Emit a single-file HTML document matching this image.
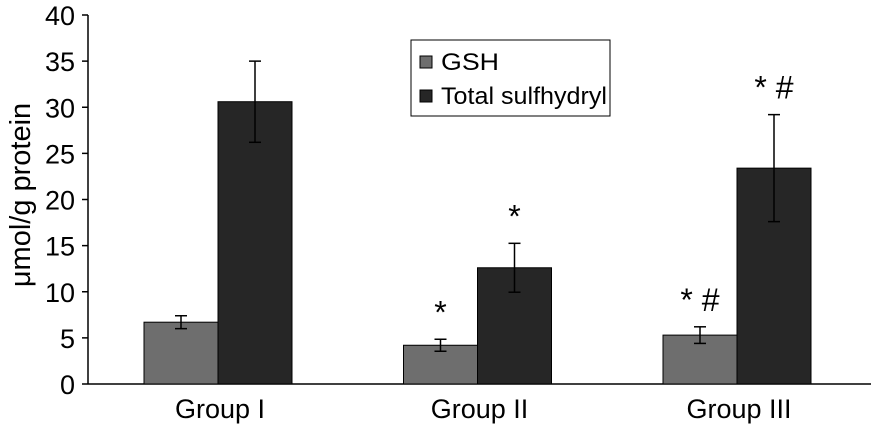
<!DOCTYPE html>
<html><head><meta charset="utf-8"><style>
body{margin:0;background:#fff;width:871px;height:424px;overflow:hidden}
svg{font-family:"Liberation Sans",Arial,sans-serif}
</style></head><body>
<svg id="chart" width="871" height="424" xmlns="http://www.w3.org/2000/svg"></svg>
<script>
const categories=["Group I","Group II","Group III"];
const gsh=[6.7,4.2,5.3];
const gshErr=[0.7,0.65,0.9];
const total=[30.6,12.6,23.4];
const totalErr=[4.4,2.65,5.8];
const gshMarks=["","*","* #"];
const totalMarks=["","*","* #"];
const yTicks=[0,5,10,15,20,25,30,35,40];

const svg=document.getElementById('chart');
const NS="http://www.w3.org/2000/svg";
const y0=384,y1=15,yMax=40,xAxis=88;
const y=v=>y0-(v/yMax)*(y0-y1);
const gx=i=>218+i*259.5;
const bw=74;
function mk(tag,attrs,parent){const e=document.createElementNS(NS,tag);for(const k in attrs)e.setAttribute(k,attrs[k]);(parent||svg).appendChild(e);return e;}

let ax=mk('line',{x1:xAxis,y1:y1,x2:xAxis,y2:y0,stroke:'#000','stroke-width':1.5});


let xa=mk('line',{x1:xAxis,y1:y0,x2:871,y2:y0,stroke:'#000','stroke-width':1.5});



yTicks.forEach(t=>{
 mk('line',{x1:xAxis-6,y1:y(t),x2:xAxis,y2:y(t),stroke:'#000','stroke-width':1.5});
 let tx=mk('text',{x:xAxis-13,y:y(t)+10,'text-anchor':'end','font-size':27});
 tx.textContent=t;
 
 
});
let yt=mk('text',{x:0,y:0,'text-anchor':'middle','font-size':29,transform:'translate(30,195) rotate(-90)'});
yt.textContent="μmol/g protein";



function bar(x,v,e,fill,name,mark){
 let r=mk('rect',{x:x,y:y(v),width:bw,height:y0-y(v),fill:fill,stroke:'#000','stroke-width':1});
 
 
 const cx=x+bw/2;
 mk('line',{x1:cx,y1:y(v+e),x2:cx,y2:y(v-e),stroke:'#000','stroke-width':1.5});
 mk('line',{x1:cx-6,y1:y(v+e),x2:cx+6,y2:y(v+e),stroke:'#000','stroke-width':1.5});
 mk('line',{x1:cx-6,y1:y(v-e),x2:cx+6,y2:y(v-e),stroke:'#000','stroke-width':1.5});
 if(mark){let m=mk('text',{x:cx,y:y(v+e)-16,'text-anchor':'middle','font-size':32});
  m.textContent=mark;
  
  }
}
categories.forEach((c,i)=>{
 bar(gx(i)-bw,gsh[i],gshErr[i],'#6e6e6e','bar-gsh',gshMarks[i]);
 bar(gx(i),total[i],totalErr[i],'#262626','bar-total-sulfhydryl',totalMarks[i]);
 let l=mk('text',{x:gx(i)+2,y:418,'text-anchor':'middle','font-size':27});
 l.textContent=c;
 
 
});

const lg=mk('g',{});


mk('rect',{x:411,y:40,width:199,height:76,fill:'#fff',stroke:'#000','stroke-width':1},lg);
[["GSH",'#6e6e6e',62],["Total sulfhydryl",'#262626',96]].forEach(([t,c,yy])=>{
 let s=mk('rect',{x:420,y:yy-6,width:12,height:12,fill:c,stroke:'#000','stroke-width':1},lg);
 
 
 let tx=mk('text',{x:441,y:yy+8,'font-size':24,textLength:t==="GSH"?58:166,lengthAdjust:'spacingAndGlyphs'},lg);
 tx.textContent=t;
 
 
});
</script>
</body></html>
